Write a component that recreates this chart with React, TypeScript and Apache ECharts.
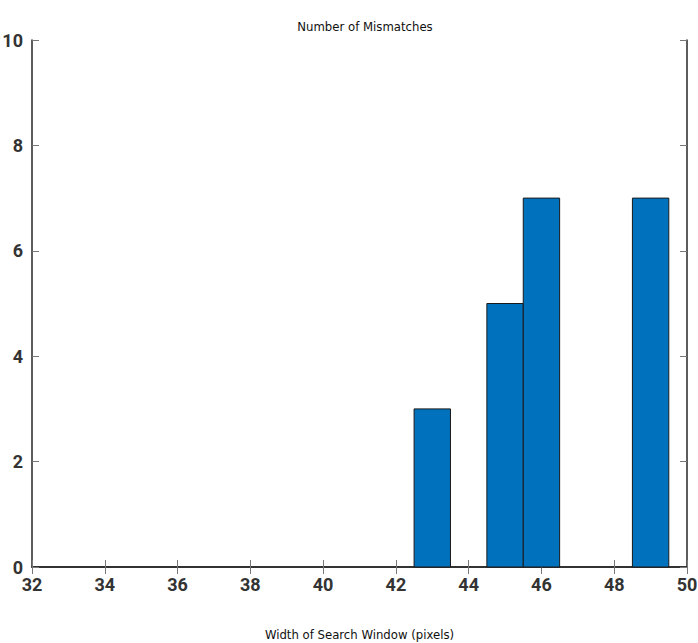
import React, { useEffect, useRef } from "react";
import * as echarts from "echarts";

const binCenters = [43, 45, 46, 49];
const counts = [3, 5, 7, 7];
const xTicks = [32, 34, 36, 38, 40, 42, 44, 46, 48, 50];
const yTicks = [0, 2, 4, 6, 8, 10];

const FONT = "'Liberation Sans Narrow', 'DejaVu Sans Condensed', Roboto, sans-serif";
const TICK_FONT = "Roboto, 'Liberation Sans', sans-serif";

export default function App() {
  const ref = useRef<HTMLDivElement>(null);
  useEffect(() => {
    if (!ref.current) return;
    const chart = echarts.init(ref.current, undefined, { renderer: "svg" });
    const data = binCenters.map((c, i) => [c, counts[i]]);
    const axisLine = { show: true, lineStyle: { color: "#262626", width: 1.5 } };
    const tick = { show: true, inside: true, length: 7, lineStyle: { color: "#777", width: 1 } };
    chart.setOption({
      animation: false,
      backgroundColor: "#fff",
      title: {
        text: "Number of Mismatches",
        left: 360,
        top: 15,
        textAlign: "center",
        textStyle: { fontFamily: FONT, fontSize: 13, fontWeight: 500, color: "#111" },
      },
      grid: { left: 32, right: 11, top: 40, bottom: 76, containLabel: false, outerBoundsMode: "none" },
      xAxis: [
        {
          type: "value",
          min: xTicks[0],
          max: xTicks[xTicks.length - 1],
          interval: 2,
          position: "bottom",
          name: "Width of Search Window (pixels)",
          nameLocation: "middle",
          nameGap: 61,
          nameTextStyle: { fontFamily: FONT, fontSize: 13, color: "#111", fontWeight: 500 },
          axisLine,
          axisTick: tick,
          splitLine: { show: false },
          axisLabel: { fontFamily: TICK_FONT, fontSize: 18, color: "#333", margin: 8, fontWeight: "bold" },
        },
        {
          type: "value",
          min: xTicks[0],
          max: xTicks[xTicks.length - 1],
          interval: 2,
          position: "top",
          axisLine,
          axisTick: tick,
          splitLine: { show: false },
          axisLabel: { show: false },
        },
      ],
      yAxis: [
        {
          type: "value",
          min: yTicks[0],
          max: yTicks[yTicks.length - 1],
          interval: 2,
          position: "left",
          axisLine,
          axisTick: tick,
          splitLine: { show: false },
          axisLabel: { fontFamily: TICK_FONT, fontSize: 18, color: "#333", margin: 9, fontWeight: "bold" },
        },
        {
          type: "value",
          min: yTicks[0],
          max: yTicks[yTicks.length - 1],
          interval: 2,
          position: "right",
          axisLine,
          axisTick: tick,
          splitLine: { show: false },
          axisLabel: { show: false },
        },
      ],
      series: [
        {
          type: "custom",
          xAxisIndex: 0,
          yAxisIndex: 0,
          data,
          renderItem: (params: any, api: any) => {
            const x = api.value(0);
            const y = api.value(1);
            const p0 = api.coord([x - 0.5, 0]);
            const p1 = api.coord([x + 0.5, y]);
            return {
              type: "rect",
              shape: { x: p0[0], y: p1[1], width: p1[0] - p0[0], height: p0[1] - p1[1] },
              style: { fill: "#0072BD", stroke: "#1a1a1a", lineWidth: 1 },
            };
          },
        },
      ],
    });
    return () => chart.dispose();
  }, []);
  return (
    <div
      ref={ref}
      style={{ position: "fixed", left: 0, top: 0, width: 698, height: 643, background: "#fff" }}
    />
  );
}
